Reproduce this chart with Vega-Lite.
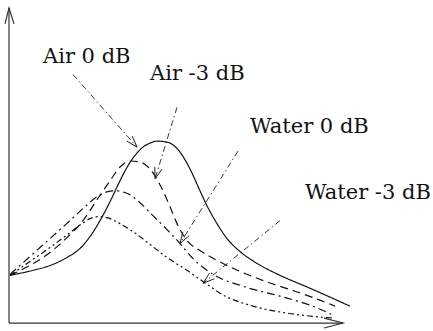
{
  "$schema": "https://vega.github.io/schema/vega-lite/v6.json",
  "width": 433,
  "height": 331,
  "autosize": {"type": "fit", "contains": "padding"},
  "padding": 0,
  "background": "white",
  "config": {"view": {"stroke": null}},
  "datasets": {
    "axes": [
      {"g": "yaxis", "o": 1, "x": -1, "y": 0},
      {"g": "yaxis", "o": 2, "x": -1, "y": 317},
      {"g": "yhead", "o": 1, "x": -5, "y": 301},
      {"g": "yhead", "o": 2, "x": -1, "y": 317},
      {"g": "yhead", "o": 3, "x": 4, "y": 301},
      {"g": "xaxis", "o": 1, "x": -1, "y": 0},
      {"g": "xaxis", "o": 2, "x": 333, "y": 0},
      {"g": "xhead", "o": 1, "x": 314, "y": 5},
      {"g": "xhead", "o": 2, "x": 333, "y": 0},
      {"g": "xhead", "o": 3, "x": 314, "y": -5}
    ],
    "curves": [
      {"s": "Air 0 dB", "x": 0, "y": 48}, {"s": "Air 0 dB", "x": 23, "y": 53}, {"s": "Air 0 dB", "x": 43, "y": 59},
      {"s": "Air 0 dB", "x": 57, "y": 66}, {"s": "Air 0 dB", "x": 70, "y": 75}, {"s": "Air 0 dB", "x": 80, "y": 87},
      {"s": "Air 0 dB", "x": 90, "y": 103}, {"s": "Air 0 dB", "x": 100, "y": 122}, {"s": "Air 0 dB", "x": 108, "y": 139},
      {"s": "Air 0 dB", "x": 115, "y": 153}, {"s": "Air 0 dB", "x": 123, "y": 166}, {"s": "Air 0 dB", "x": 133, "y": 177},
      {"s": "Air 0 dB", "x": 140, "y": 181}, {"s": "Air 0 dB", "x": 147, "y": 183}, {"s": "Air 0 dB", "x": 157, "y": 182},
      {"s": "Air 0 dB", "x": 170, "y": 172}, {"s": "Air 0 dB", "x": 180, "y": 155}, {"s": "Air 0 dB", "x": 190, "y": 133},
      {"s": "Air 0 dB", "x": 197, "y": 118}, {"s": "Air 0 dB", "x": 207, "y": 100}, {"s": "Air 0 dB", "x": 217, "y": 85},
      {"s": "Air 0 dB", "x": 230, "y": 72}, {"s": "Air 0 dB", "x": 247, "y": 60}, {"s": "Air 0 dB", "x": 270, "y": 48},
      {"s": "Air 0 dB", "x": 300, "y": 35}, {"s": "Air 0 dB", "x": 340, "y": 17},
      {"s": "Air -3 dB", "x": 0, "y": 48}, {"s": "Air -3 dB", "x": 20, "y": 58}, {"s": "Air -3 dB", "x": 40, "y": 71},
      {"s": "Air -3 dB", "x": 57, "y": 86}, {"s": "Air -3 dB", "x": 73, "y": 103}, {"s": "Air -3 dB", "x": 87, "y": 124},
      {"s": "Air -3 dB", "x": 100, "y": 143}, {"s": "Air -3 dB", "x": 110, "y": 157}, {"s": "Air -3 dB", "x": 120, "y": 163},
      {"s": "Air -3 dB", "x": 130, "y": 162}, {"s": "Air -3 dB", "x": 138, "y": 157}, {"s": "Air -3 dB", "x": 145, "y": 148},
      {"s": "Air -3 dB", "x": 152, "y": 135}, {"s": "Air -3 dB", "x": 160, "y": 117}, {"s": "Air -3 dB", "x": 168, "y": 98},
      {"s": "Air -3 dB", "x": 177, "y": 83}, {"s": "Air -3 dB", "x": 190, "y": 73}, {"s": "Air -3 dB", "x": 207, "y": 63},
      {"s": "Air -3 dB", "x": 230, "y": 52}, {"s": "Air -3 dB", "x": 258, "y": 41}, {"s": "Air -3 dB", "x": 285, "y": 32},
      {"s": "Air -3 dB", "x": 310, "y": 23}, {"s": "Air -3 dB", "x": 325, "y": 17},
      {"s": "Water 0 dB", "x": 0, "y": 49}, {"s": "Water 0 dB", "x": 20, "y": 67}, {"s": "Water 0 dB", "x": 40, "y": 85},
      {"s": "Water 0 dB", "x": 60, "y": 103}, {"s": "Water 0 dB", "x": 75, "y": 117}, {"s": "Water 0 dB", "x": 87, "y": 127},
      {"s": "Water 0 dB", "x": 97, "y": 132}, {"s": "Water 0 dB", "x": 105, "y": 133}, {"s": "Water 0 dB", "x": 118, "y": 130},
      {"s": "Water 0 dB", "x": 130, "y": 121}, {"s": "Water 0 dB", "x": 143, "y": 108}, {"s": "Water 0 dB", "x": 157, "y": 94},
      {"s": "Water 0 dB", "x": 170, "y": 80}, {"s": "Water 0 dB", "x": 180, "y": 68}, {"s": "Water 0 dB", "x": 203, "y": 49},
      {"s": "Water 0 dB", "x": 233, "y": 37}, {"s": "Water 0 dB", "x": 270, "y": 27}, {"s": "Water 0 dB", "x": 300, "y": 18},
      {"s": "Water 0 dB", "x": 323, "y": 8},
      {"s": "Water -3 dB", "x": 0, "y": 48}, {"s": "Water -3 dB", "x": 20, "y": 62}, {"s": "Water -3 dB", "x": 40, "y": 76},
      {"s": "Water -3 dB", "x": 60, "y": 91}, {"s": "Water -3 dB", "x": 72, "y": 100}, {"s": "Water -3 dB", "x": 80, "y": 105},
      {"s": "Water -3 dB", "x": 88, "y": 107}, {"s": "Water -3 dB", "x": 97, "y": 106}, {"s": "Water -3 dB", "x": 110, "y": 100},
      {"s": "Water -3 dB", "x": 123, "y": 92}, {"s": "Water -3 dB", "x": 140, "y": 79}, {"s": "Water -3 dB", "x": 157, "y": 66},
      {"s": "Water -3 dB", "x": 177, "y": 53}, {"s": "Water -3 dB", "x": 197, "y": 39}, {"s": "Water -3 dB", "x": 210, "y": 30},
      {"s": "Water -3 dB", "x": 243, "y": 17}, {"s": "Water -3 dB", "x": 277, "y": 10}, {"s": "Water -3 dB", "x": 323, "y": 5}
    ],
    "shafts": [
      {"g": "a1", "o": 1, "x": 63, "y": 250}, {"g": "a1", "o": 2, "x": 127, "y": 177},
      {"g": "a2", "o": 1, "x": 167, "y": 217}, {"g": "a2", "o": 2, "x": 145, "y": 145},
      {"g": "a3", "o": 1, "x": 228, "y": 173}, {"g": "a3", "o": 2, "x": 170, "y": 80},
      {"g": "a4", "o": 1, "x": 270, "y": 103}, {"g": "a4", "o": 2, "x": 193, "y": 40}
    ],
    "heads": [
      {"g": "a1", "o": 1, "x": 122.3, "y": 188}, {"g": "a1", "o": 2, "x": 127, "y": 177}, {"g": "a1", "o": 3, "x": 116.7, "y": 183.1},
      {"g": "a2", "o": 1, "x": 151.9, "y": 154.8}, {"g": "a2", "o": 2, "x": 145, "y": 145}, {"g": "a2", "o": 3, "x": 144.8, "y": 157},
      {"g": "a3", "o": 1, "x": 179.1, "y": 87.8}, {"g": "a3", "o": 2, "x": 170, "y": 80}, {"g": "a3", "o": 3, "x": 172.8, "y": 91.7},
      {"g": "a4", "o": 1, "x": 204.2, "y": 44.4}, {"g": "a4", "o": 2, "x": 193, "y": 40}, {"g": "a4", "o": 3, "x": 199.5, "y": 50.1}
    ],
    "labels": [
      {"t": "Air 0 dB", "x": 33, "y": 262},
      {"t": "Air -3 dB", "x": 140, "y": 245},
      {"t": "Water 0 dB", "x": 240, "y": 191},
      {"t": "Water -3 dB", "x": 295, "y": 125}
    ]
  },
  "encoding": {
    "x": {"field": "x", "type": "quantitative", "scale": {"domain": [-10, 423], "nice": false, "zero": false}, "axis": null},
    "y": {"field": "y", "type": "quantitative", "scale": {"domain": [-6, 325], "nice": false, "zero": false}, "axis": null}
  },
  "layer": [
    {
      "data": {"name": "axes"},
      "mark": {"type": "line", "color": "#333333", "strokeWidth": 1.2},
      "encoding": {"detail": {"field": "g"}, "order": {"field": "o"}}
    },
    {
      "data": {"name": "curves"},
      "mark": {"type": "line", "color": "#111111", "strokeWidth": 1.2, "interpolate": "monotone"},
      "encoding": {
        "detail": {"field": "s"},
        "strokeDash": {
          "field": "s",
          "type": "nominal",
          "scale": {
            "domain": ["Air 0 dB", "Air -3 dB", "Water 0 dB", "Water -3 dB"],
            "range": [[1, 0], [8, 5], [8, 4, 2, 4], [6, 3, 2, 3, 2, 3]]
          },
          "legend": null
        }
      }
    },
    {
      "data": {"name": "shafts"},
      "mark": {"type": "line", "color": "#222222", "strokeWidth": 0.9, "strokeDash": [6, 3, 1.5, 3]},
      "encoding": {"detail": {"field": "g"}, "order": {"field": "o"}}
    },
    {
      "data": {"name": "heads"},
      "mark": {"type": "line", "color": "#222222", "strokeWidth": 1},
      "encoding": {"detail": {"field": "g"}, "order": {"field": "o"}}
    },
    {
      "data": {"name": "labels"},
      "mark": {"type": "text", "font": "DejaVu Serif", "fontSize": 21, "align": "left", "baseline": "alphabetic", "color": "#111111"},
      "encoding": {"text": {"field": "t"}}
    }
  ]
}
